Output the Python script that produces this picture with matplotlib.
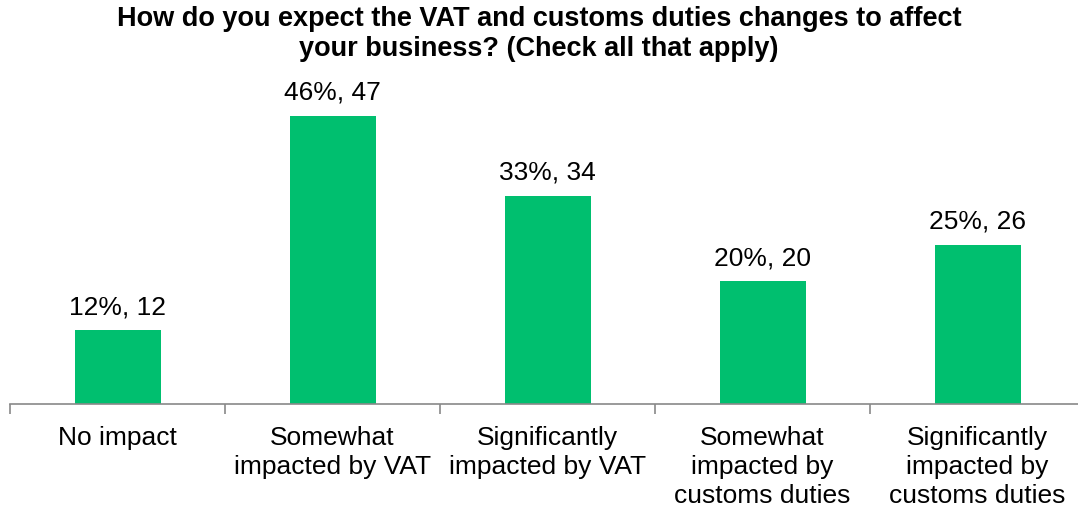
import matplotlib.pyplot as plt

plt.rcParams['font.family'] = ['Liberation Sans', 'DejaVu Sans']

categories = ["No impact", "Somewhat\nimpacted by VAT", "Significantly\nimpacted by VAT",
              "Somewhat\nimpacted by\ncustoms duties", "Significantly\nimpacted by\ncustoms duties"]
counts = [12, 47, 34, 20, 26]
percents = [12, 46, 33, 20, 25]

fig = plt.figure(figsize=(10.78, 5.12), dpi=100)
ax = fig.add_axes([10/1078, 108/512, 1075/1078, 306.5/512])

x = list(range(len(categories)))
ax.bar(x, counts, width=0.4, color="#00BF6F")
for xi, c, p in zip(x, counts, percents):
    ax.annotate(f"{p}%, {c}", (xi, c), xytext=(0, 8), textcoords="offset points",
                ha="center", va="bottom", fontsize=19)

ax.set_xlim(-0.5, len(categories) - 0.5)
ax.set_ylim(0, 50)
ax.set_xticks([i - 0.5 for i in range(len(categories) + 1)])
ax.set_xticklabels([])
ax.set_xticks(x, minor=True)
ax.set_xticklabels(categories, minor=True, fontsize=19, linespacing=1.27)
ax.tick_params(axis="x", which="major", length=7, color="#898989", width=1.2)
ax.tick_params(axis="x", which="minor", length=0, pad=16)
ax.set_yticks([])
for s in ["top", "right", "left"]:
    ax.spines[s].set_visible(False)
ax.spines["bottom"].set_color("#898989")
ax.spines["bottom"].set_linewidth(1.2)

fig.text(0.5, 1 - 6/512, "How do you expect the VAT and customs duties changes to affect\nyour business? (Check all that apply)",
         ha="center", va="top", fontsize=19.5, fontweight="bold", linespacing=1.18)

fig.savefig("out.png", dpi=100)
